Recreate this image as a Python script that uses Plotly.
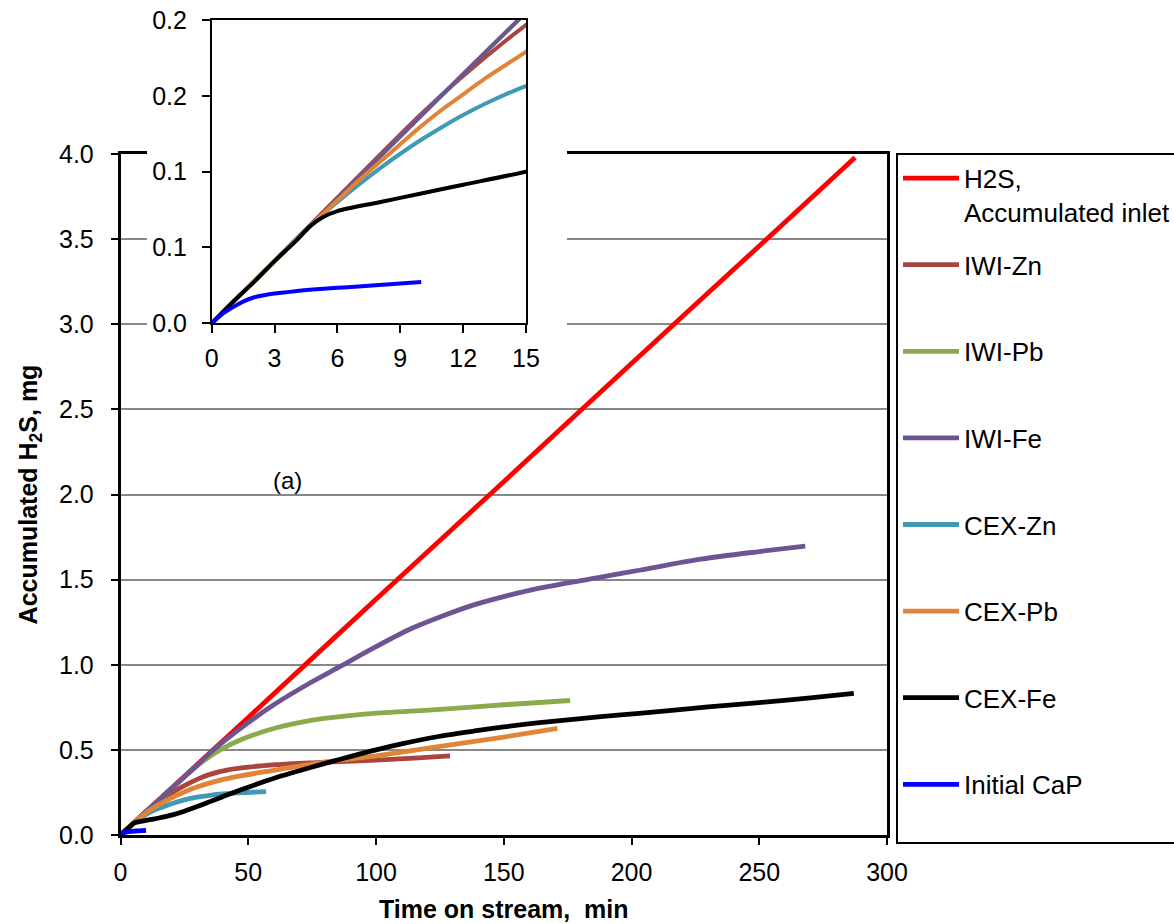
import plotly.graph_objects as go

# ---------------- data ----------------
t_inlet = [0, 50, 100, 150, 200, 250, 287.5]
v_inlet = [0, 0.69, 1.385, 2.075, 2.77, 3.46, 3.98]

t_iwi_zn = [0, 5, 10, 12, 14, 16, 20, 25, 30, 35, 42, 50, 61, 75, 86, 100, 115, 129]
v_iwi_zn = [0, 0.069, 0.138, 0.163, 0.186, 0.207, 0.247, 0.29, 0.327, 0.356, 0.383,
            0.399, 0.413, 0.424, 0.431, 0.44, 0.452, 0.465]

t_iwi_pb = [0, 5, 10, 15, 20, 26, 32, 39, 48, 61, 74, 86, 98, 125, 150, 176]
v_iwi_pb = [0, 0.068, 0.137, 0.205, 0.272, 0.355, 0.43, 0.5, 0.565, 0.63, 0.672,
            0.695, 0.713, 0.738, 0.765, 0.79]

t_iwi_fe = [0, 10, 20, 30, 36, 50, 60, 75, 86, 98, 112, 125, 138, 150, 164, 188,
            203, 227, 250, 268]
v_iwi_fe = [0, 0.137, 0.273, 0.41, 0.495, 0.66, 0.765, 0.9, 0.99, 1.09, 1.2, 1.28,
            1.35, 1.40, 1.45, 1.515, 1.555, 1.62, 1.665, 1.697]

t_cex_zn = [0, 3, 5, 6, 7, 8, 9, 10, 11, 12, 13, 14, 15, 20, 25, 30, 35, 40, 48, 57]
v_cex_zn = [0, 0.041, 0.068, 0.080, 0.0913, 0.1019, 0.1118, 0.121, 0.1295, 0.1373,
            0.1444, 0.1508, 0.1565, 0.184, 0.206, 0.222, 0.233, 0.241, 0.249, 0.255]

t_cex_pb = [0, 5, 6, 7, 8, 9, 10, 11, 12, 13, 14, 15, 20, 28, 38, 48, 60, 70, 80,
            90, 100, 125, 150, 171]
v_cex_pb = [0, 0.068, 0.081, 0.094, 0.106, 0.118, 0.13, 0.141, 0.151, 0.161, 0.17,
            0.179, 0.218, 0.272, 0.318, 0.35, 0.38, 0.405, 0.428, 0.447, 0.465,
            0.52, 0.575, 0.626]

t_cex_fe = [0, 1, 2, 3, 4, 4.7, 5.3, 6, 8, 10, 12, 15, 20, 25, 30, 35, 40, 48, 61,
            74, 86, 100, 110, 125, 140, 150, 164, 188, 203, 230, 250, 270, 287]
v_cex_fe = [0, 0.014, 0.027, 0.041, 0.054, 0.064, 0.070, 0.074, 0.0798, 0.0856,
            0.0914, 0.1, 0.117, 0.14, 0.167, 0.196, 0.225, 0.27, 0.338, 0.395, 0.445,
            0.5, 0.535, 0.58, 0.614, 0.635, 0.66, 0.695, 0.715, 0.752, 0.778, 0.805,
            0.832]

t_cap = [0, 0.5, 1, 1.5, 2, 2.5, 3, 4, 5, 6, 7, 8, 9, 10]
v_cap = [0, 0.006, 0.0105, 0.0143, 0.017, 0.0185, 0.0196, 0.0212, 0.0224, 0.0234,
         0.0243, 0.0253, 0.0263, 0.0273]

series_names = ["H2S,<br>Accumulated inlet", "IWI-Zn", "IWI-Pb", "IWI-Fe",
                "CEX-Zn", "CEX-Pb", "CEX-Fe", "Initial CaP"]
series_t = [t_inlet, t_iwi_zn, t_iwi_pb, t_iwi_fe, t_cex_zn, t_cex_pb, t_cex_fe, t_cap]
series_v = [v_inlet, v_iwi_zn, v_iwi_pb, v_iwi_fe, v_cex_zn, v_cex_pb, v_cex_fe, v_cap]
series_colors = ["#FF0000", "#A9443F", "#8AAA4B", "#6E5493",
                 "#4299B3", "#E08537", "#000000", "#0000FF"]
in_inset = [False, True, True, True, True, True, True, True]

x_ticks = [0, 50, 100, 150, 200, 250, 300]
y_ticks = [0, 0.5, 1.0, 1.5, 2.0, 2.5, 3.0, 3.5, 4.0]
inset_x_ticks = [0, 3, 6, 9, 12, 15]
inset_y_ticks = [0, 0.05, 0.1, 0.15, 0.2]
inset_y_labels = ["0.0", "0.1", "0.1", "0.2", "0.2"]

FONT = "Liberation Sans, Arial, sans-serif"
W, H = 1174, 924

fig = go.Figure()

# main traces
for i, (name, t, v, c) in enumerate(zip(series_names, series_t, series_v, series_colors)):
    label = name if "<br>" in name else name + "<br> "
    fig.add_trace(go.Scatter(
        x=t, y=v, mode="lines", name=label, legendgroup=f"g{i}",
        line=dict(color=c, width=4.8, shape="spline", smoothing=0.8),
        xaxis="x", yaxis="y", hoverinfo="skip"))

# empty trace for the white backing panel behind the inset
fig.add_trace(go.Scatter(x=[None], y=[None], xaxis="x2", yaxis="y2",
                         showlegend=False, hoverinfo="skip"))

# inset traces
for i, (name, t, v, c) in enumerate(zip(series_names, series_t, series_v, series_colors)):
    if not in_inset[i]:
        continue
    fig.add_trace(go.Scatter(
        x=t, y=v, mode="lines", showlegend=False,
        line=dict(color=c, width=4, shape="spline", smoothing=0.8),
        xaxis="x3", yaxis="y3", hoverinfo="skip"))

main_x = [120.5 / W, 887 / W]
main_y = [1 - 835 / H, 1 - 154 / H]
box_x = [147 / W, 567 / W]
box_y = [1 - 390 / H, 1.0]
ins_x = [211.7 / W, 526 / W]
ins_y = [1 - 323.3 / H, 1 - 20 / H]

fig.update_layout(
    width=W, height=H,
    margin=dict(l=0, r=0, t=0, b=0, autoexpand=False),
    paper_bgcolor="white", plot_bgcolor="white",
    font=dict(family=FONT, size=25, color="black"),
    xaxis=dict(
        domain=main_x, range=[0, 300], tickvals=x_ticks, showgrid=False,
        zeroline=False, showline=True, linecolor="black", linewidth=2.5, mirror=True,
        ticks="outside", ticklen=7, tickwidth=2, tickcolor="black",
        ticklabelstandoff=6,
        title=dict(text="<b>Time on stream,\u00a0 min</b>", font=dict(size=25), standoff=16),
        anchor="y"),
    yaxis=dict(
        domain=main_y, range=[0, 4.0], tickvals=y_ticks, tickformat=".1f",
        showgrid=True, gridcolor="#888888", gridwidth=1.5,
        zeroline=False, showline=True, linecolor="black", linewidth=2.5, mirror=True,
        ticks="outside", ticklen=7, tickwidth=2, tickcolor="black",
        ticklabelstandoff=12,
        title=dict(text="<b>Accumulated H<sub>2</sub>S, mg</b>", font=dict(size=25), standoff=15),
        anchor="x"),
    xaxis2=dict(domain=box_x, range=[0, 1], visible=False, anchor="y2"),
    yaxis2=dict(domain=box_y, range=[0, 1], visible=False, anchor="x2"),
    xaxis3=dict(
        domain=ins_x, range=[0, 15], tickvals=inset_x_ticks, showgrid=False,
        zeroline=False, showline=True, linecolor="black", linewidth=1.5, mirror=True,
        ticks="outside", ticklen=8, tickwidth=1.5, tickcolor="black",
        tickfont=dict(size=25), ticklabelstandoff=4, anchor="y3"),
    yaxis3=dict(
        domain=ins_y, range=[0, 0.2], tickvals=inset_y_ticks, ticktext=inset_y_labels,
        showgrid=False, zeroline=False, showline=True, linecolor="black",
        linewidth=1.5, mirror=True,
        ticks="outside", ticklen=8, tickwidth=1.5, tickcolor="black",
        tickfont=dict(size=25), ticklabelstandoff=10, anchor="x3"),
    legend=dict(
        x=896 / W, y=1 - 152.7 / H, xanchor="left", yanchor="top",
        bordercolor="black", borderwidth=2, bgcolor="white",
        font=dict(family=FONT, size=26), valign="top",
        tracegroupgap=16, itemwidth=56),
    annotations=[dict(text="(a)", x=65.5, y=2.08, xref="x", yref="y",
                      showarrow=False, font=dict(size=24))],
    showlegend=True,
)

fig.write_html("out.html")
